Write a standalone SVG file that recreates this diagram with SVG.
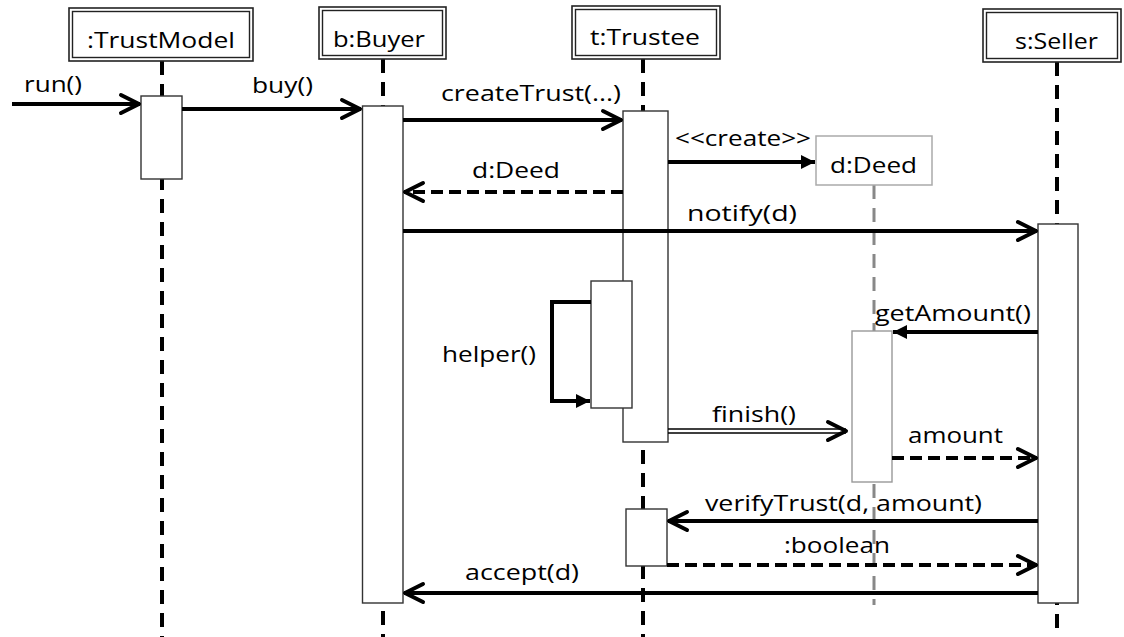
<svg xmlns="http://www.w3.org/2000/svg" width="1124" height="637" viewBox="0 0 1124 637">
<style>
text{font-family:"Open Sans","Liberation Sans",Arial,sans-serif;font-size:22px;fill:#000}
.outer{fill:#fff;stroke:#222;stroke-width:1.6}
.inner{fill:none;stroke:#222;stroke-width:1.4}
.act{fill:#fff;stroke:#333;stroke-width:1.4}
.life{stroke:#000;stroke-width:4;stroke-dasharray:14 9;fill:none}
.msg{stroke:#000;stroke-width:4;fill:none}
.ret{stroke:#000;stroke-width:4;stroke-dasharray:12 6;fill:none}
</style>
<defs>
<marker id="open" markerUnits="userSpaceOnUse" viewBox="-26 -13 30 26" refX="0" refY="0" markerWidth="30" markerHeight="26" orient="auto">
<path d="M-19,-9 L-1,0 L-19,9" fill="none" stroke="#000" stroke-width="4" stroke-linecap="round" stroke-linejoin="round"/>
</marker>
<marker id="filled" markerUnits="userSpaceOnUse" viewBox="-16 -9 18 18" refX="0" refY="0" markerWidth="18" markerHeight="18" orient="auto">
<path d="M-14,-7 L0,0 L-14,7 Z" fill="#000"/>
</marker>
</defs>
<rect width="1124" height="637" fill="#fff"/>

<g id="trustmodel">
<line class="life" x1="162" y1="61" x2="162" y2="637"/>
<rect class="outer" x="69" y="8" width="184" height="53"/>
<rect class="inner" x="72.5" y="11.5" width="177" height="46"/>
<text x="87" y="48" textLength="148" lengthAdjust="spacingAndGlyphs">:TrustModel</text>
<rect class="act" x="141" y="96" width="41" height="83"/>
</g>

<g id="buyer">
<line class="life" x1="383" y1="59" x2="383" y2="637"/>
<rect class="outer" x="319" y="7" width="127" height="52"/>
<rect class="inner" x="322.5" y="10.5" width="120" height="45"/>
<text x="333" y="47" textLength="92" lengthAdjust="spacingAndGlyphs">b:Buyer</text>
<rect class="act" x="362.5" y="106" width="40.5" height="497"/>
</g>

<g id="trustee">
<line class="life" x1="643" y1="59" x2="643" y2="637"/>
<rect class="outer" x="572" y="6" width="148" height="53"/>
<rect class="inner" x="575.5" y="9.5" width="141" height="46"/>
<text x="590" y="45" textLength="110" lengthAdjust="spacingAndGlyphs">t:Trustee</text>
<rect class="act" x="623" y="111" width="45" height="331"/>
<rect class="act" x="591" y="281" width="41" height="127"/>
<rect class="act" x="626" y="509" width="41" height="57"/>
</g>

<g id="deed">
<line x1="874" y1="185" x2="874" y2="605" stroke="#888" stroke-width="3" stroke-dasharray="14 9"/>
<rect x="816" y="136" width="116" height="49" fill="#fff" stroke="#aaa" stroke-width="1.5"/>
<text x="830" y="173" textLength="87" lengthAdjust="spacingAndGlyphs">d:Deed</text>
<rect x="852" y="331" width="40" height="151" fill="#fff" stroke="#999" stroke-width="1.4"/>
</g>

<g id="seller">
<line class="life" x1="1057" y1="62" x2="1057" y2="637"/>
<rect class="outer" x="983" y="9" width="138" height="53"/>
<rect class="inner" x="986.5" y="12.5" width="131" height="46"/>
<text x="1015" y="49" textLength="83" lengthAdjust="spacingAndGlyphs">s:Seller</text>
<rect class="act" x="1038" y="224" width="40" height="379"/>
</g>

<g id="connectors">
<path class="msg" d="M12,104 H140" marker-end="url(#open)"/>
<path class="msg" d="M182,109 H361" marker-end="url(#open)"/>
<path class="msg" d="M403,120 H622" marker-end="url(#open)"/>
<path class="msg" d="M668,162 H815" marker-end="url(#filled)"/>
<path class="ret" d="M623,192 H404" marker-end="url(#open)"/>
<path class="msg" d="M403,231 H1037" marker-end="url(#open)"/>
<path d="M591,302 H552 V401 H590" fill="none" stroke="#000" stroke-width="4" marker-end="url(#filled)"/>
<path class="msg" d="M1038,332 H893" marker-end="url(#filled)"/>
<path d="M668,429 H846 M668,433 H846" fill="none" stroke="#000" stroke-width="1.4"/>
<path d="M846,431 H847" fill="none" stroke="none" marker-end="url(#open)"/>
<path class="ret" d="M892,458 H1037" marker-end="url(#open)"/>
<path class="msg" d="M1038,521 H668" marker-end="url(#open)"/>
<path class="ret" d="M667,565 H1037" marker-end="url(#open)"/>
<path class="msg" d="M1038,593 H404" marker-end="url(#open)"/>
</g>

<g id="labels">
<text x="24" y="92" textLength="58" lengthAdjust="spacingAndGlyphs">run()</text>
<text x="252" y="93" textLength="61" lengthAdjust="spacingAndGlyphs">buy()</text>
<text x="441" y="101" textLength="180" lengthAdjust="spacingAndGlyphs">createTrust(...)</text>
<text x="675" y="146" textLength="136" lengthAdjust="spacingAndGlyphs">&lt;&lt;create&gt;&gt;</text>
<text x="472" y="178" textLength="88" lengthAdjust="spacingAndGlyphs">d:Deed</text>
<text x="687" y="221" textLength="110" lengthAdjust="spacingAndGlyphs">notify(d)</text>
<text x="442" y="362" textLength="94" lengthAdjust="spacingAndGlyphs">helper()</text>
<text x="875" y="321" textLength="156" lengthAdjust="spacingAndGlyphs">getAmount()</text>
<text x="712" y="422" textLength="84" lengthAdjust="spacingAndGlyphs">finish()</text>
<text x="908" y="443" textLength="95" lengthAdjust="spacingAndGlyphs">amount</text>
<text x="705" y="511" textLength="277" lengthAdjust="spacingAndGlyphs">verifyTrust(d, amount)</text>
<text x="784" y="553" textLength="106" lengthAdjust="spacingAndGlyphs">:boolean</text>
<text x="465" y="580" textLength="114" lengthAdjust="spacingAndGlyphs">accept(d)</text>
</g>
</svg>
